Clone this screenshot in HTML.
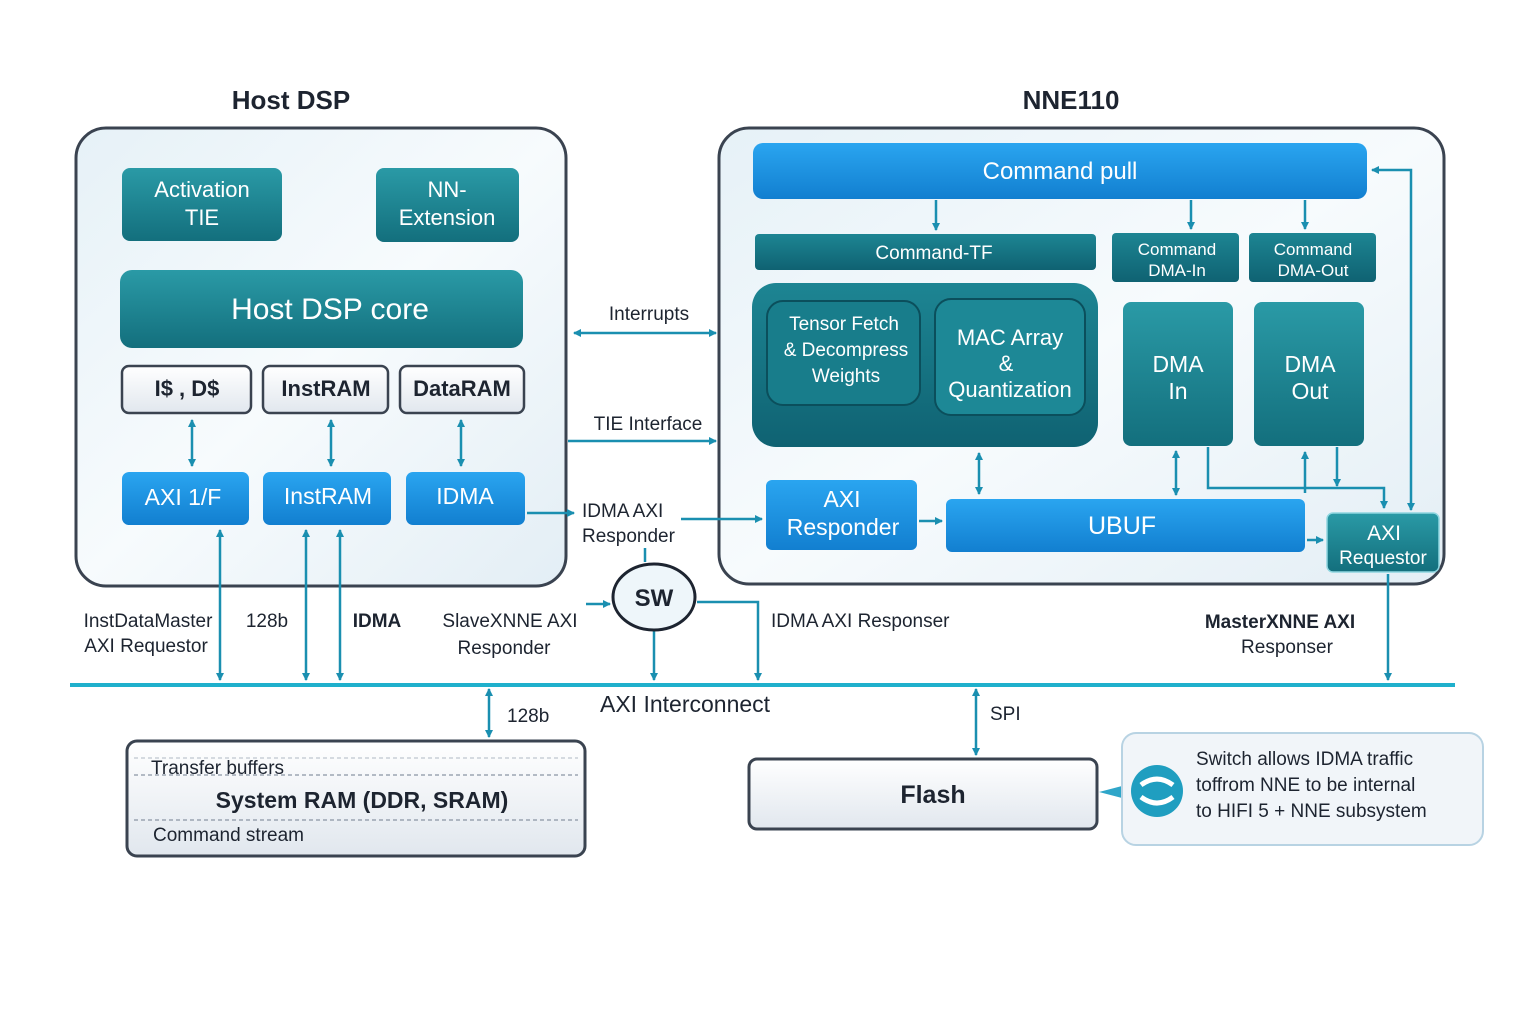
<!DOCTYPE html>
<html><head><meta charset="utf-8"><style>
html,body{margin:0;padding:0;background:#fff;}
svg{display:block;font-family:"Liberation Sans",sans-serif;}
</style></head><body>
<svg width="1536" height="1024" viewBox="0 0 1536 1024" xmlns="http://www.w3.org/2000/svg">
<defs>
<linearGradient id="cont" x1="0" y1="0" x2="1" y2="1"><stop offset="0" stop-color="#e6f1f7"/><stop offset="0.5" stop-color="#f7fbfd"/><stop offset="1" stop-color="#e3eef5"/></linearGradient>
<linearGradient id="teal" x1="0" y1="0" x2="0" y2="1"><stop offset="0" stop-color="#2a9aa6"/><stop offset="1" stop-color="#136f7d"/></linearGradient>
<linearGradient id="tealD" x1="0" y1="0" x2="0" y2="1"><stop offset="0" stop-color="#1d8593"/><stop offset="1" stop-color="#0f6272"/></linearGradient>
<linearGradient id="blue" x1="0" y1="0" x2="0" y2="1"><stop offset="0" stop-color="#2aa5f0"/><stop offset="1" stop-color="#127fd0"/></linearGradient>
<linearGradient id="white" x1="0" y1="0" x2="0" y2="1"><stop offset="0" stop-color="#ffffff"/><stop offset="1" stop-color="#e1e7ee"/></linearGradient>
<marker id="ah" markerWidth="8" markerHeight="8" refX="7" refY="4" orient="auto-start-reverse" markerUnits="userSpaceOnUse"><path d="M0,0 L8,4 L0,8 z" fill="#1a8fb0"/></marker>
</defs>

<!-- titles -->
<text x="291" y="109" font-size="26" font-weight="bold" text-anchor="middle" fill="#1d2430">Host DSP</text>
<text x="1071" y="109" font-size="26" font-weight="bold" text-anchor="middle" fill="#1d2430">NNE110</text>

<!-- Host container -->
<rect x="76" y="128" width="490" height="458" rx="30" fill="url(#cont)" stroke="#3a4350" stroke-width="3"/>
<!-- NNE container -->
<rect x="719" y="128" width="725" height="456" rx="30" fill="url(#cont)" stroke="#3a4350" stroke-width="3"/>

<g font-size="22" fill="#fff" text-anchor="middle">
<rect x="122" y="168" width="160" height="73" rx="8" fill="url(#teal)"/>
<text x="202" y="197">Activation</text><text x="202" y="225">TIE</text>
<rect x="376" y="168" width="143" height="74" rx="8" fill="url(#teal)"/>
<text x="447" y="197">NN-</text><text x="447" y="225">Extension</text>
<rect x="120" y="270" width="403" height="78" rx="12" fill="url(#teal)"/>
<text x="330" y="319" font-size="30">Host DSP core</text>
</g>

<g font-size="22" font-weight="bold" fill="#1d2430" text-anchor="middle">
<rect x="122" y="366" width="129" height="47" rx="7" fill="url(#white)" stroke="#3a4350" stroke-width="2.5"/>
<text x="187" y="396">I$ , D$</text>
<rect x="263" y="366" width="125" height="47" rx="7" fill="url(#white)" stroke="#3a4350" stroke-width="2.5"/>
<text x="326" y="396">InstRAM</text>
<rect x="400" y="366" width="124" height="47" rx="7" fill="url(#white)" stroke="#3a4350" stroke-width="2.5"/>
<text x="462" y="396">DataRAM</text>
</g>

<g font-size="23" fill="#fff" text-anchor="middle">
<rect x="122" y="472" width="127" height="53" rx="7" fill="url(#blue)"/><text x="183" y="505">AXI 1/F</text>
<rect x="263" y="472" width="128" height="53" rx="7" fill="url(#blue)"/><text x="328" y="504">InstRAM</text>
<rect x="406" y="472" width="119" height="53" rx="7" fill="url(#blue)"/><text x="465" y="504">IDMA</text>
</g>

<!-- NNE internals -->
<g fill="#fff" text-anchor="middle">
<rect x="753" y="143" width="614" height="56" rx="10" fill="url(#blue)"/>
<text x="1060" y="179" font-size="24">Command pull</text>
<rect x="755" y="234" width="341" height="36" rx="4" fill="url(#tealD)"/>
<text x="934" y="259" font-size="19">Command-TF</text>
<rect x="1112" y="233" width="127" height="49" rx="4" fill="url(#tealD)"/>
<text x="1177" y="255" font-size="17">Command</text><text x="1177" y="276" font-size="17">DMA-In</text>
<rect x="1249" y="233" width="127" height="49" rx="4" fill="url(#tealD)"/>
<text x="1313" y="255" font-size="17">Command</text><text x="1313" y="276" font-size="17">DMA-Out</text>
<rect x="752" y="283" width="346" height="164" rx="24" fill="url(#tealD)"/>
<rect x="767" y="301" width="153" height="104" rx="16" fill="#187d8b" stroke="#0b4f5c" stroke-width="2"/>
<text x="844" y="330" font-size="19">Tensor Fetch</text><text x="846" y="356" font-size="19">&amp; Decompress</text><text x="846" y="382" font-size="19">Weights</text>
<rect x="935" y="299" width="150" height="116" rx="16" fill="#1d8896" stroke="#0b4f5c" stroke-width="2"/>
<text x="1010" y="345" font-size="22">MAC Array</text><text x="1006" y="371" font-size="22">&amp;</text><text x="1010" y="397" font-size="22">Quantization</text>
<rect x="1123" y="302" width="110" height="144" rx="8" fill="url(#teal)"/>
<text x="1178" y="372" font-size="23">DMA</text><text x="1178" y="399" font-size="23">In</text>
<rect x="1254" y="302" width="110" height="144" rx="8" fill="url(#teal)"/>
<text x="1310" y="372" font-size="23">DMA</text><text x="1310" y="399" font-size="23">Out</text>
<rect x="766" y="480" width="151" height="70" rx="6" fill="url(#blue)"/>
<text x="842" y="507" font-size="23">AXI</text><text x="843" y="535" font-size="23">Responder</text>
<rect x="946" y="499" width="359" height="53" rx="6" fill="url(#blue)"/>
<text x="1122" y="534" font-size="25">UBUF</text>
<rect x="1327" y="513" width="112" height="59" rx="6" fill="url(#teal)" stroke="#8fd6e0" stroke-width="1.5"/>
<text x="1384" y="540" font-size="21">AXI</text><text x="1383" y="564" font-size="19">Requestor</text>
</g>

<!-- arrows -->
<g stroke="#1a8fb0" stroke-width="2.5" fill="none">
<line x1="192" y1="420" x2="192" y2="466" marker-start="url(#ah)" marker-end="url(#ah)"/>
<line x1="331" y1="420" x2="331" y2="466" marker-start="url(#ah)" marker-end="url(#ah)"/>
<line x1="461" y1="420" x2="461" y2="466" marker-start="url(#ah)" marker-end="url(#ah)"/>
<line x1="574" y1="333" x2="716" y2="333" marker-start="url(#ah)" marker-end="url(#ah)"/>
<line x1="568" y1="441" x2="716" y2="441" marker-end="url(#ah)"/>
<line x1="527" y1="513" x2="574" y2="513" marker-end="url(#ah)"/>
<line x1="681" y1="519" x2="762" y2="519" marker-end="url(#ah)"/>
<line x1="919" y1="521" x2="942" y2="521" marker-end="url(#ah)"/>
<line x1="936" y1="200" x2="936" y2="230" marker-end="url(#ah)"/>
<line x1="1191" y1="200" x2="1191" y2="229" marker-end="url(#ah)"/>
<line x1="1305" y1="200" x2="1305" y2="229" marker-end="url(#ah)"/>
<line x1="979" y1="453" x2="979" y2="494" marker-start="url(#ah)" marker-end="url(#ah)"/>
<line x1="1176" y1="451" x2="1176" y2="495" marker-start="url(#ah)" marker-end="url(#ah)"/>
<polyline points="1208,447 1208,488 1384,488 1384,508" marker-end="url(#ah)"/>
<line x1="1305" y1="493" x2="1305" y2="452" marker-end="url(#ah)"/>
<line x1="1337" y1="447" x2="1337" y2="486" marker-end="url(#ah)"/>
<line x1="1307" y1="540" x2="1323" y2="540" marker-end="url(#ah)"/>
<polyline points="1411,510 1411,170 1372,170" marker-start="url(#ah)" marker-end="url(#ah)"/>
<line x1="1388" y1="574" x2="1388" y2="680" marker-end="url(#ah)"/>
<line x1="220" y1="530" x2="220" y2="680" marker-start="url(#ah)" marker-end="url(#ah)"/>
<line x1="306" y1="530" x2="306" y2="680" marker-start="url(#ah)" marker-end="url(#ah)"/>
<line x1="340" y1="530" x2="340" y2="680" marker-start="url(#ah)" marker-end="url(#ah)"/>
<line x1="586" y1="604" x2="610" y2="604" marker-end="url(#ah)"/>
<line x1="654" y1="630" x2="654" y2="680" marker-end="url(#ah)"/>
<line x1="645" y1="548" x2="645" y2="562"/>
<polyline points="697,602 758,602 758,680" marker-end="url(#ah)"/>
<line x1="489" y1="689" x2="489" y2="737" marker-start="url(#ah)" marker-end="url(#ah)"/>
<line x1="976" y1="689" x2="976" y2="755" marker-start="url(#ah)" marker-end="url(#ah)"/>
</g>
<line x1="70" y1="685" x2="1455" y2="685" stroke="#1fb0cc" stroke-width="4"/>

<!-- SW -->
<ellipse cx="654" cy="597" rx="41" ry="33" fill="#eef6fa" stroke="#1d2430" stroke-width="3"/>
<text x="654" y="606" font-size="24" font-weight="bold" text-anchor="middle" fill="#1d2430">SW</text>

<!-- labels -->
<g font-size="19" fill="#1d2430">
<text x="649" y="320" text-anchor="middle">Interrupts</text>
<text x="648" y="430" text-anchor="middle">TIE Interface</text>
<text x="582" y="517">IDMA AXI</text><text x="582" y="542">Responder</text>
<text x="148" y="627" text-anchor="middle">InstDataMaster</text><text x="146" y="652" text-anchor="middle">AXI Requestor</text>
<text x="267" y="627" text-anchor="middle">128b</text>
<text x="377" y="627" text-anchor="middle" font-weight="bold">IDMA</text>
<text x="510" y="627" text-anchor="middle">SlaveXNNE AXI</text><text x="504" y="654" text-anchor="middle">Responder</text>
<text x="771" y="627">IDMA AXI Responser</text>
<text x="1280" y="628" text-anchor="middle" font-weight="bold">MasterXNNE AXI</text><text x="1287" y="653" text-anchor="middle">Responser</text>
<text x="507" y="722">128b</text>
<text x="600" y="712" font-size="23">AXI Interconnect</text>
<text x="990" y="720">SPI</text>
</g>

<!-- System RAM -->
<rect x="127" y="741" width="458" height="115" rx="10" fill="url(#white)" stroke="#3a4350" stroke-width="3"/>
<line x1="134" y1="775" x2="578" y2="775" stroke="#8a95a3" stroke-width="1.2" stroke-dasharray="4 3"/>
<line x1="134" y1="820" x2="578" y2="820" stroke="#8a95a3" stroke-width="1.2" stroke-dasharray="4 3"/>
<line x1="134" y1="758" x2="578" y2="758" stroke="#b0b8c3" stroke-width="1" stroke-dasharray="4 3"/>
<text x="151" y="774" font-size="19" fill="#1d2430">Transfer buffers</text>
<text x="362" y="808" font-size="23" font-weight="bold" text-anchor="middle" fill="#1d2430">System RAM (DDR, SRAM)</text>
<text x="153" y="841" font-size="19" fill="#1d2430">Command stream</text>

<!-- Flash -->
<rect x="749" y="759" width="348" height="70" rx="8" fill="url(#white)" stroke="#3a4350" stroke-width="3"/>
<text x="933" y="803" font-size="25" font-weight="bold" text-anchor="middle" fill="#1d2430">Flash</text>

<!-- Note -->
<path d="M1099,792 L1122,786 L1122,798 z" fill="#2fa6c9"/>
<rect x="1122" y="733" width="361" height="112" rx="14" fill="#f1f5f9" stroke="#b8d3e3" stroke-width="2"/>
<circle cx="1157" cy="791" r="26" fill="#1f9ec0"/>
<path d="M1141,785 q16,-12 32,0" stroke="#fff" stroke-width="5" fill="none"/>
<path d="M1141,797 q16,12 32,0" stroke="#fff" stroke-width="5" fill="none"/>
<g font-size="19" fill="#1d2430">
<text x="1196" y="765">Switch allows IDMA traffic</text>
<text x="1196" y="791">toffrom NNE to be internal</text>
<text x="1196" y="817">to HIFI 5 + NNE subsystem</text>
</g>
</svg>
</body></html>
